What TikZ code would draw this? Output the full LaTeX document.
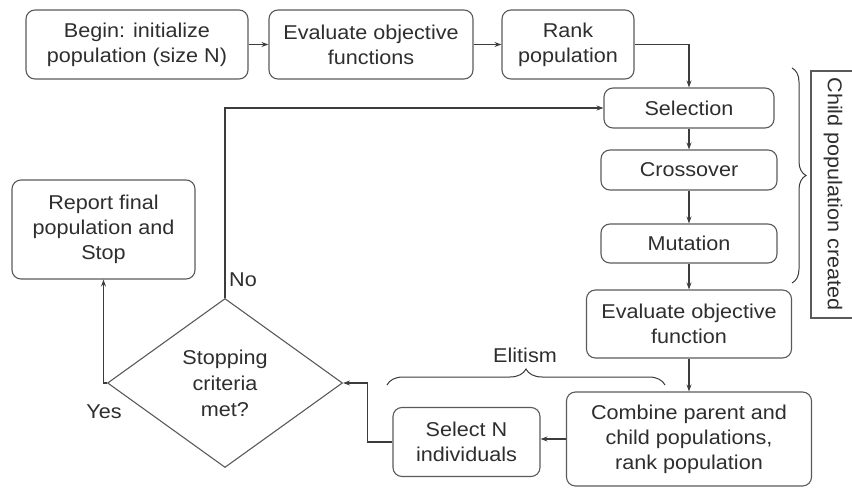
\documentclass[tikz,border=0pt]{standalone}
\usepackage{fontspec}
\setmainfont{Liberation Sans}[FakeStretch=1.08]
\usetikzlibrary{arrows.meta,shapes.geometric,decorations.pathreplacing}
\definecolor{boxc}{HTML}{5A5A5A}
\definecolor{linec}{HTML}{3C3C3C}
\definecolor{txt}{HTML}{2E2E2E}
\begin{document}
\begin{tikzpicture}[x=1pt,y=1pt,
  box/.style={draw=boxc,line width=1.1pt,rounded corners=9pt,align=center,inner sep=0pt,text=txt,font=\fontsize{20}{25}\selectfont},
  conn/.style={draw=linec,line width=1.1pt,-{Stealth[length=7pt,width=5pt]}},
  lbl/.style={text=txt,font=\fontsize{20}{25}\selectfont,inner sep=0pt},
  bracestyle/.style={draw=linec,line width=1pt,decorate}]
\useasboundingbox (0,0) rectangle (852,488);
\node[box,minimum width=222pt,minimum height=69pt] (begin) at (137,443.5) {Begin: initialize\\population (size N)};
\node[box,minimum width=204pt,minimum height=69pt] (evf) at (371,443.5) {Evaluate objective\\functions};
\node[box,minimum width=132pt,minimum height=69pt] (rank) at (568,443.5) {Rank\\population};
\node[box,minimum width=170pt,minimum height=40pt] (sel) at (689,380) {Selection};
\node[box,minimum width=176pt,minimum height=40pt] (cross) at (689,318) {Crossover};
\node[box,minimum width=176pt,minimum height=39pt] (mut) at (689,244.5) {Mutation};
\node[box,minimum width=205pt,minimum height=68pt] (evo) at (689,164) {Evaluate objective\\function};
\node[box,minimum width=245pt,minimum height=94pt] (comb) at (689,49) {Combine parent and\\child populations,\\rank population};
\node[box,minimum width=147pt,minimum height=69pt] (seln) at (466.5,46) {Select N\\individuals};
\node[diamond,draw=boxc,line width=1.1pt,minimum width=235pt,minimum height=169pt,inner sep=0pt,align=center,text=txt,font=\fontsize{20}{26}\selectfont] (dia) at (225,105) {Stopping\\criteria\\met?};
\node[box,minimum width=183pt,minimum height=99pt] (rep) at (103.5,258.5) {Report final\\population and\\Stop};
\node[lbl,rotate=-90] (child) at (833,294) {Child population created};
\draw[draw=boxc,line width=1.1pt] (853,417) -- (811,417) -- (811,170) -- (853,170);
\node[lbl] (no) at (243,208) {No};
\node[lbl] (yes) at (104,76) {Yes};
\node[lbl] (elit) at (525,133) {Elitism};
\draw[bracestyle,decoration={brace,amplitude=16pt}] (387,103) -- (665,103);
\draw[bracestyle,decoration={brace,amplitude=14pt}] (792,420) -- (792,205);
\draw[conn] (begin) -- (evf);
\draw[conn] (evf) -- (rank);
\draw[conn] (rank.east) -| (sel.north);
\draw[conn] (sel) -- (cross);
\draw[conn] (cross) -- (mut);
\draw[conn] (mut) -- (evo);
\draw[conn] (evo) -- (comb);
\draw[conn] (comb.west) -- (comb.west -| seln.east);
\draw[conn] (seln.west) -- ++(-25,0) |- (dia.east);
\draw[conn] (dia.north) |- (sel.west);
\draw[conn] (dia.west) -| (rep.south);
\end{tikzpicture}
\end{document}
